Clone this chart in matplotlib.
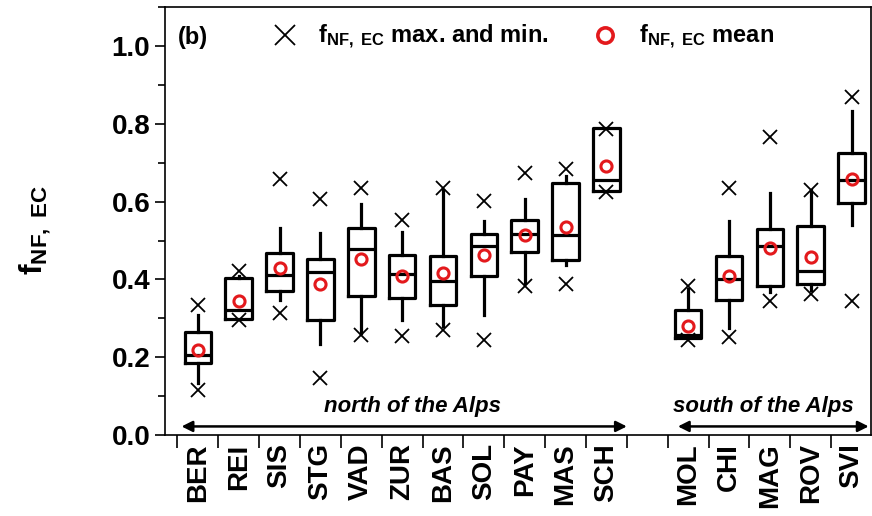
import matplotlib
matplotlib.use("Agg")
import matplotlib.pyplot as plt
from matplotlib.lines import Line2D
from matplotlib.ticker import MultipleLocator, FormatStrFormatter

plt.rcParams['font.family'] = ['Liberation Sans', 'DejaVu Sans']
plt.rcParams['font.weight'] = 'bold'
plt.rcParams['mathtext.fontset'] = 'custom'
plt.rcParams['mathtext.bf'] = 'Liberation Sans:bold'
plt.rcParams['mathtext.rm'] = 'Liberation Sans:bold'
plt.rcParams['mathtext.it'] = 'Liberation Sans:bold:italic'

# ---------------- data ----------------
sites = ['BER', 'REI', 'SIS', 'STG', 'VAD', 'ZUR', 'BAS', 'SOL', 'PAY', 'MAS', 'SCH',
         'MOL', 'CHI', 'MAG', 'ROV', 'SVI']
north_count = 11
q1 = [0.185, 0.298, 0.369, 0.295, 0.357, 0.352, 0.335, 0.410, 0.470, 0.449, 0.627,
      0.249, 0.348, 0.384, 0.388, 0.597]
med = [0.206, 0.322, 0.412, 0.419, 0.479, 0.415, 0.397, 0.487, 0.517, 0.513, 0.655,
       0.258, 0.401, 0.487, 0.421, 0.655]
q3 = [0.264, 0.404, 0.468, 0.453, 0.531, 0.464, 0.461, 0.517, 0.552, 0.649, 0.790,
      0.322, 0.460, 0.530, 0.537, 0.726]
whislo = [0.133, 0.298, 0.348, 0.235, 0.262, 0.296, 0.279, 0.309, 0.390, 0.438, 0.627,
          0.249, 0.275, 0.367, 0.374, 0.539]
whishi = [0.309, 0.410, 0.532, 0.520, 0.593, 0.522, 0.630, 0.550, 0.607, 0.666, 0.790,
          0.375, 0.550, 0.621, 0.630, 0.833]
means = [0.219, 0.345, 0.430, 0.388, 0.453, 0.410, 0.417, 0.462, 0.513, 0.534, 0.692,
         0.281, 0.410, 0.481, 0.458, 0.657]
vmax = [0.335, 0.421, 0.657, 0.606, 0.636, 0.554, 0.636, 0.601, 0.674, 0.683, 0.788,
        0.382, 0.636, 0.767, 0.631, 0.868]
vmin = [0.116, 0.296, 0.314, 0.146, 0.258, 0.255, 0.269, 0.245, 0.382, 0.387, 0.625,
        0.243, 0.252, 0.344, 0.363, 0.344]

# positions: north group 1..11, gap, south group 13..17
positions = [i + 1 for i in range(north_count)] + \
            [north_count + 2 + i for i in range(len(sites) - north_count)]

fig = plt.figure(figsize=(8.72, 5.16), dpi=100)
ax = fig.add_axes([0.189, 0.157, 0.810, 0.829])

stats = []
for i, s in enumerate(sites):
    stats.append(dict(label=s, q1=q1[i], med=med[i], q3=q3[i],
                      whislo=whislo[i], whishi=whishi[i], mean=means[i], fliers=[]))

lw = 2.3
ax.bxp(stats, positions=positions, widths=0.65, showcaps=False, showfliers=False,
       showmeans=False, patch_artist=False,
       boxprops=dict(color='black', linewidth=lw),
       whiskerprops=dict(color='black', linewidth=lw),
       medianprops=dict(color='black', linewidth=lw))

red = '#e3191c'
ax.plot(positions, vmax, linestyle='none', marker='x', ms=10, mew=1.3, color='black', zorder=4)
ax.plot(positions, vmin, linestyle='none', marker='x', ms=10, mew=1.3, color='black', zorder=4)
ax.plot(positions, means, linestyle='none', marker='o', ms=8, mew=2.2,
        mfc='none', mec=red, zorder=5)

ax.set_xlim(0.19, 17.48)
ax.set_ylim(0, 1.1)

ax.yaxis.set_major_locator(MultipleLocator(0.2))
ax.yaxis.set_minor_locator(MultipleLocator(0.1))
ax.yaxis.set_major_formatter(FormatStrFormatter('%.1f'))
ax.tick_params(axis='y', which='major', length=7, width=1.2, labelsize=20, direction='out')
ax.tick_params(axis='y', which='minor', length=5, width=1.2, direction='out')

ax.set_xticks(positions)
ax.set_xticklabels(sites, rotation=90, fontsize=20, fontweight='bold')
ax.tick_params(axis='x', which='major', length=0, pad=6)
minor_x = [p - 0.5 for p in positions] + [positions[north_count - 1] + 0.5]
ax.set_xticks(minor_x, minor=True)
ax.tick_params(axis='x', which='minor', length=9, width=1.2, direction='out')

for sp in ax.spines.values():
    sp.set_linewidth(1.2)

ax.set_ylabel(r'$\mathbf{f_{NF,\ EC}}$', fontsize=23)
ax.yaxis.set_label_coords(-0.158, 0.48)

ax.text(0.018, 0.93, '(b)', transform=ax.transAxes, fontsize=17, fontweight='bold',
        va='center', ha='left')

# region arrows and labels
arrow_kw = dict(arrowstyle='<|-|>', color='black', lw=1.8, mutation_scale=16,
                shrinkA=0, shrinkB=0)
ax.annotate('', xy=(0.6, 0.022), xytext=(11.5, 0.022), arrowprops=arrow_kw)
ax.annotate('', xy=(12.75, 0.022), xytext=(17.42, 0.022), arrowprops=arrow_kw)
ax.text(6.25, 0.058, 'north of the Alps', fontsize=16, fontstyle='italic',
        fontweight='bold', ha='center', va='baseline')
ax.text(14.85, 0.058, 'south of the Alps', fontsize=16, fontstyle='italic',
        fontweight='bold', ha='center', va='baseline')

handles = [Line2D([], [], linestyle='none', marker='x', ms=14, mew=1.3, color='black'),
           Line2D([], [], linestyle='none', marker='o', ms=11, mew=2.6, mfc='none', mec=red)]
labels = [r'$\mathbf{f_{NF,\ EC}}$ max. and min.', r'$\mathbf{f_{NF,\ EC}}$ mean']
ax.legend(handles, labels, loc='center left', bbox_to_anchor=(0.12, 0.93), ncol=2,
          frameon=False, handlelength=1.2, handletextpad=0.8,
          columnspacing=1.8, prop=dict(size=17, weight='bold'))

fig.savefig('out.png', dpi=100)
